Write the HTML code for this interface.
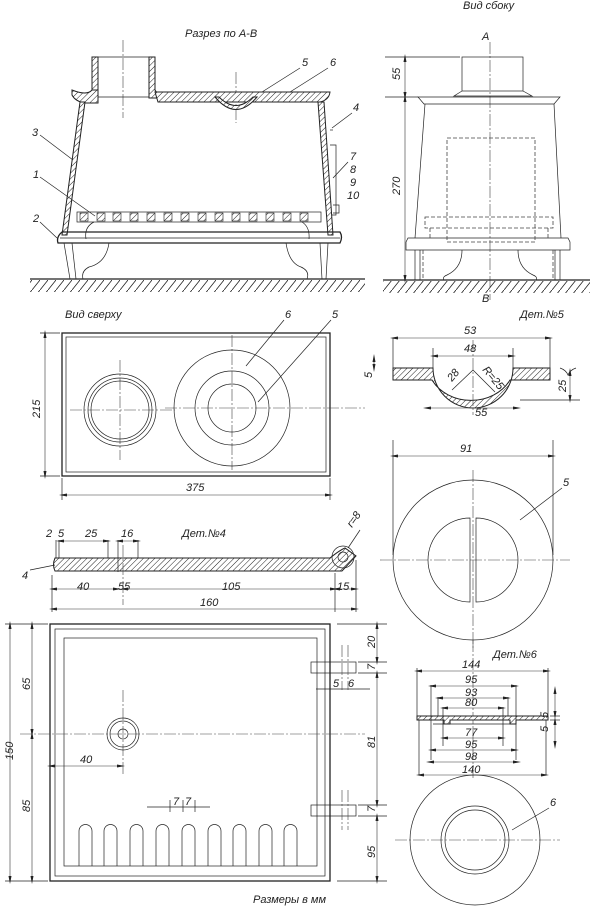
<!DOCTYPE html>
<html><head><meta charset="utf-8"><style>
html,body{margin:0;padding:0;background:#fff;}
svg{display:block;}
text{font-family:"Liberation Sans",sans-serif;font-style:italic;font-size:11px;fill:#222;}
.t{stroke:#222;stroke-width:0.7;fill:none;}
.m{stroke:#222;stroke-width:1.3;fill:none;}
.c{stroke:#444;stroke-width:0.6;fill:none;stroke-dasharray:12 2 2 2;}
.d{stroke:#444;stroke-width:0.8;fill:none;stroke-dasharray:4 2;}
.h{stroke:#222;stroke-width:1;fill:url(#hatch);}
.dim{stroke:#333;stroke-width:0.6;fill:none;marker-start:url(#a);marker-end:url(#a);}
</style></head><body>
<svg width="600" height="909" viewBox="0 0 600 909" xmlns="http://www.w3.org/2000/svg">
<defs>
<pattern id="hatch" width="4" height="4" patternUnits="userSpaceOnUse" patternTransform="rotate(45)"><rect width="4" height="4" fill="#fff"/><line x1="0" y1="0" x2="0" y2="4" stroke="#222" stroke-width="1"/></pattern>
<pattern id="ground" width="8" height="10" patternUnits="userSpaceOnUse"><line x1="8" y1="0" x2="0" y2="10" stroke="#222" stroke-width="0.8"/></pattern>
<marker id="a" markerWidth="8" markerHeight="6" refX="4" refY="3" orient="auto-start-reverse" markerUnits="userSpaceOnUse"><path d="M0,1.5 L8,3 L0,4.5 Z" fill="#222"/></marker>
</defs>

<!-- ===== Section A-B ===== -->
<text x="185" y="37">Разрез по А-В</text>
<line class="c" x1="123" y1="40" x2="123" y2="118"/>
<line class="c" x1="236" y1="72" x2="236" y2="123"/>
<!-- chimney -->
<path class="h" d="M92,57 h6 v40 h-6 z"/>
<path class="h" d="M149,57 h6 v33 q3,6 12,8 h-18 z"/>
<path class="h" d="M92,90 q-5,6 -20,0 v5 q3,6 12,8 h14 v-13 z"/>
<line class="t" x1="92" y1="57" x2="155" y2="57"/>
<line class="t" x1="98" y1="97" x2="149" y2="97"/>
<!-- top plate -->
<path class="h" d="M155,92 h175 q-1,8 -10,10 h-162 z"/>
<path class="h" d="M215,97 q21,25 42,0 h-4 q-17,17 -34,0 z"/>
<!-- walls -->
<path class="h" d="M80,102 h5 l-18,133 h-5 z"/>
<path class="h" d="M318,102 h6 l9,133 h-5 z"/>
<line class="t" x1="330" y1="130" x2="333" y2="130"/>
<path class="t" d="M330,145 h6 v70 h-4 M333,205 h6 v8 h-6"/>
<!-- grate -->
<rect class="t" x="77" y="212" width="244" height="10"/>
<g fill="url(#hatch)" stroke="#222" stroke-width="0.6">
<rect x="80" y="213" width="8" height="8"/><rect x="97" y="213" width="8" height="8"/><rect x="113" y="213" width="8" height="8"/><rect x="130" y="213" width="8" height="8"/><rect x="147" y="213" width="8" height="8"/><rect x="164" y="213" width="8" height="8"/><rect x="181" y="213" width="8" height="8"/><rect x="198" y="213" width="8" height="8"/><rect x="215" y="213" width="8" height="8"/><rect x="232" y="213" width="8" height="8"/><rect x="249" y="213" width="8" height="8"/><rect x="266" y="213" width="8" height="8"/><rect x="283" y="213" width="8" height="8"/><rect x="300" y="213" width="8" height="8"/>
</g>
<path class="t" d="M94,222 q-10,5 -8,17 M302,222 q8,5 7,17"/>
<!-- base -->
<path class="m" d="M62,232 h278 q3,5 0,11 h-282 q-2,-6 4,-11 z"/>
<line class="t" x1="60" y1="238" x2="340" y2="238"/>
<!-- legs -->
<path class="t" d="M64,243 l6,36 M72,243 l4,36 M109,243 q-3,20 -20,24 q-8,4 -6,12 M286,243 q3,20 15,24 q9,4 6,12 M320,243 l2,36 M328,243 l-2,36"/>
<line class="m" x1="30" y1="279" x2="365" y2="279"/>
<rect x="30" y="280" width="335" height="12" fill="url(#ground)"/>
<!-- leaders -->
<text x="302" y="66">5</text><text x="330" y="66">6</text>
<line class="t" x1="300" y1="68" x2="262" y2="92"/><line class="t" x1="328" y1="68" x2="290" y2="92"/>
<text x="353" y="111">4</text><line class="t" x1="352" y1="113" x2="332" y2="128"/>
<text x="32" y="136">3</text><line class="t" x1="40" y1="135" x2="73" y2="160"/>
<text x="33" y="178">1</text><line class="t" x1="40" y1="177" x2="95" y2="216"/>
<text x="33" y="222">2</text><line class="t" x1="40" y1="222" x2="57" y2="238"/>
<text x="350" y="160">7</text><text x="350" y="173">8</text><text x="350" y="186">9</text><text x="347" y="199">10</text>
<line class="t" x1="348" y1="162" x2="333" y2="178"/>

<!-- ===== Side view ===== -->
<text x="463" y="9">Вид сбоку</text>
<text x="482" y="40">A</text><text x="482" y="302">B</text>
<line class="c" x1="490" y1="42" x2="490" y2="300"/>
<rect class="t" x="462" y="57" width="61" height="34"/>
<path class="t" d="M462,91 l-8,5 h78 l-9,-5"/>
<path class="t" d="M418,97 h142 l-6,7 h-130 z"/>
<path class="t" d="M425,104 l-10,134 M554,104 l7,134"/>
<path class="t" d="M408,238 h160 l2,4 v8 h-164 v-8 z"/>
<path class="t" d="M415,250 v30 M420,250 v30 M555,250 v30 M560,250 v30 M462,250 q0,18 -15,25 q-5,2 -3,5 M518,250 q0,18 15,25 q5,2 3,5"/>
<rect class="d" x="447" y="138" width="88" height="104"/>
<path class="d" d="M425,217 h128 v11 h-128 z M430,228 v10 M548,228 v10 M423,250 v30 M553,250 v30"/>
<line class="m" x1="383" y1="280" x2="590" y2="280"/>
<rect x="383" y="281" width="207" height="12" fill="url(#ground)"/>
<line class="t" x1="385" y1="57" x2="460" y2="57"/><line class="t" x1="385" y1="97" x2="418" y2="97"/>
<line class="dim" x1="405" y1="58" x2="405" y2="96"/>
<line class="dim" x1="405" y1="98" x2="405" y2="279"/>
<text transform="translate(400,80) rotate(-90)">55</text>
<text transform="translate(400,195) rotate(-90)">270</text>

<!-- ===== Top view ===== -->
<text x="65" y="318">Вид сверху</text>
<rect class="m" x="62" y="333" width="268" height="143"/>
<rect class="t" x="66" y="337" width="260" height="135"/>
<line class="c" x1="70" y1="410" x2="175" y2="410"/>
<line class="c" x1="120" y1="360" x2="120" y2="460"/>
<circle class="t" cx="120" cy="410" r="36"/><circle class="t" cx="120" cy="410" r="32"/><circle class="t" cx="120" cy="410" r="29"/>
<line class="c" x1="165" y1="408" x2="365" y2="408"/>
<line class="c" x1="232" y1="335" x2="232" y2="470"/>
<circle class="t" cx="232" cy="408" r="58"/><circle class="t" cx="232" cy="408" r="37"/><circle class="t" cx="232" cy="408" r="24"/>
<text x="285" y="318">6</text><text x="332" y="318">5</text>
<line class="t" x1="284" y1="320" x2="246" y2="366"/><line class="t" x1="331" y1="320" x2="258" y2="402"/>
<line class="t" x1="40" y1="333" x2="60" y2="333"/><line class="t" x1="40" y1="476" x2="60" y2="476"/>
<line class="dim" x1="45" y1="334" x2="45" y2="475"/>
<text transform="translate(40,418) rotate(-90)">215</text>
<line class="t" x1="62" y1="478" x2="62" y2="500"/><line class="t" x1="330" y1="478" x2="330" y2="500"/>
<line class="dim" x1="63" y1="495" x2="329" y2="495"/>
<text x="186" y="491">375</text>

<!-- ===== Det 5 ===== -->
<text x="520" y="318">Дет.№5</text>
<path class="h" d="M393,368 h40 a40,40 0 0 0 80,0 h37 v12 h-40 a44,38 0 0 1 -78,0 h-39 z"/>
<line class="c" x1="473" y1="340" x2="473" y2="415"/>
<line class="t" x1="393" y1="338" x2="393" y2="368"/><line class="t" x1="550" y1="338" x2="550" y2="368"/>
<line class="dim" x1="394" y1="338" x2="549" y2="338"/><text x="464" y="334">53</text>
<line class="t" x1="433" y1="348" x2="433" y2="368"/><line class="t" x1="513" y1="348" x2="513" y2="368"/>
<line class="dim" x1="434" y1="356" x2="512" y2="356"/><text x="464" y="352">48</text>
<line class="dim" x1="427" y1="408" x2="517" y2="408"/><text x="475" y="416">55</text>
<line class="t" x1="473" y1="370" x2="452" y2="390"/><line class="t" x1="473" y1="370" x2="495" y2="392"/>
<text transform="translate(452,382) rotate(-50)" font-size="10">28</text>
<text transform="translate(482,370) rotate(50)" font-size="10">R=25</text>
<line class="dim" x1="374" y1="358" x2="374" y2="368"/><text transform="translate(372,378) rotate(-90)">5</text>
<line class="t" x1="520" y1="400" x2="580" y2="400"/>
<line class="dim" x1="570" y1="372" x2="570" y2="399"/><text transform="translate(566,392) rotate(-90)">25</text>
<path class="t" d="M560,368 q6,2 8,7 q2,-5 8,-7"/>

<!-- circle of det 5 -->
<line class="c" x1="380" y1="560" x2="570" y2="560"/>
<line class="c" x1="473" y1="470" x2="473" y2="650"/>
<circle class="t" cx="473" cy="560" r="80"/>
<path class="t" d="M470,518 a42,42 0 0 0 0,84 z M476,518 a42,42 0 0 1 0,84 z"/>
<line class="t" x1="393" y1="440" x2="393" y2="555"/><line class="t" x1="553" y1="440" x2="553" y2="555"/>
<line class="dim" x1="394" y1="456" x2="552" y2="456"/><text x="460" y="452">91</text>
<text x="563" y="486">5</text><line class="t" x1="562" y1="488" x2="520" y2="520"/>

<!-- ===== Det 4 ===== -->
<text x="182" y="537">Дет.№4</text>
<path class="h" d="M55,558 h275 q10,-8 15,-10 l11,8 l-14,15 h-287 q-3,-6 0,-13 z"/>
<circle class="t" cx="343" cy="557" r="11"/><circle class="t" cx="343" cy="557" r="5"/>
<line class="c" x1="123" y1="545" x2="123" y2="605"/>
<line class="t" x1="52" y1="575" x2="52" y2="612"/><line class="t" x1="335" y1="573" x2="335" y2="612"/><line class="t" x1="356" y1="560" x2="356" y2="612"/>
<line class="t" x1="56" y1="540" x2="56" y2="558"/><line class="t" x1="59" y1="540" x2="59" y2="558"/>
<line class="t" x1="108" y1="540" x2="108" y2="558"/><line class="t" x1="118" y1="540" x2="118" y2="572"/><line class="t" x1="138" y1="540" x2="138" y2="558"/>
<line class="dim" x1="60" y1="541" x2="107" y2="541"/><line class="dim" x1="119" y1="541" x2="137" y2="541"/>
<text x="46" y="537">2</text><text x="58" y="537">5</text><text x="85" y="537">25</text><text x="121" y="537">16</text>
<line class="t" x1="30" y1="570" x2="55" y2="565"/><text x="22" y="579">4</text>
<line class="dim" x1="53" y1="589" x2="117" y2="589"/><line class="dim" x1="124" y1="589" x2="334" y2="589"/><line class="dim" x1="336" y1="589" x2="355" y2="589"/>
<text x="77" y="590">40</text><text x="118" y="590">55</text><text x="222" y="590">105</text><text x="337" y="590">15</text>
<line class="dim" x1="53" y1="609" x2="355" y2="609"/><text x="200" y="606">160</text>
<line class="t" x1="348" y1="548" x2="360" y2="530"/><text transform="translate(352,528) rotate(-55)">r=8</text>

<!-- ===== Door ===== -->
<rect class="m" x="50" y="624" width="280" height="257"/>
<rect class="t" x="55" y="629" width="270" height="247"/>
<rect class="t" x="64" y="638" width="253" height="228"/>
<line class="c" x1="20" y1="734" x2="365" y2="734"/>
<line class="c" x1="123" y1="690" x2="123" y2="775"/>
<circle class="t" cx="123" cy="734" r="16"/><circle class="t" cx="123" cy="734" r="13"/><circle class="t" cx="123" cy="734" r="5"/>
<line class="dim" x1="51" y1="766" x2="121" y2="766"/><text x="80" y="763">40</text>
<g class="t">
<path d="M79,866 v-35 a6.5,6.5 0 0 1 13,0 v35"/><path d="M104,866 v-35 a6.5,6.5 0 0 1 13,0 v35"/><path d="M130,866 v-35 a6.5,6.5 0 0 1 13,0 v35"/><path d="M156,866 v-35 a6.5,6.5 0 0 1 13,0 v35"/><path d="M182,866 v-35 a6.5,6.5 0 0 1 13,0 v35"/><path d="M208,866 v-35 a6.5,6.5 0 0 1 13,0 v35"/><path d="M233,866 v-35 a6.5,6.5 0 0 1 13,0 v35"/><path d="M259,866 v-35 a6.5,6.5 0 0 1 13,0 v35"/><path d="M284,866 v-35 a6.5,6.5 0 0 1 13,0 v35"/>
</g>
<line class="t" x1="147" y1="807" x2="210" y2="807"/>
<line class="t" x1="170" y1="800" x2="170" y2="812"/><line class="t" x1="183" y1="800" x2="183" y2="812"/><line class="t" x1="195" y1="800" x2="195" y2="812"/>
<text x="173" y="805">7</text><text x="185" y="805">7</text>
<!-- hinges -->
<rect class="t" x="311" y="662" width="45" height="11"/><rect class="t" x="311" y="805" width="45" height="11"/>
<line class="c" x1="342" y1="645" x2="342" y2="690"/><line class="c" x1="348" y1="645" x2="348" y2="690"/>
<line class="c" x1="342" y1="790" x2="342" y2="830"/><line class="c" x1="348" y1="790" x2="348" y2="830"/>
<line class="t" x1="316" y1="689" x2="370" y2="689"/>
<text x="333" y="687">5</text><text x="348" y="687">6</text>
<!-- door dims -->
<line class="t" x1="5" y1="624" x2="48" y2="624"/><line class="t" x1="5" y1="881" x2="48" y2="881"/>
<line class="dim" x1="10" y1="625" x2="10" y2="880"/><text transform="translate(13,760) rotate(-90)">150</text>
<line class="dim" x1="32" y1="625" x2="32" y2="733"/><line class="dim" x1="32" y1="735" x2="32" y2="880"/>
<text transform="translate(30,690) rotate(-90)">65</text><text transform="translate(30,812) rotate(-90)">85</text>
<line class="t" x1="337" y1="624" x2="387" y2="624"/><line class="t" x1="358" y1="662" x2="387" y2="662"/><line class="t" x1="358" y1="673" x2="387" y2="673"/>
<line class="t" x1="358" y1="805" x2="387" y2="805"/><line class="t" x1="358" y1="816" x2="387" y2="816"/><line class="t" x1="337" y1="881" x2="387" y2="881"/>
<line class="dim" x1="377" y1="625" x2="377" y2="661"/><line class="dim" x1="377" y1="674" x2="377" y2="804"/><line class="dim" x1="377" y1="817" x2="377" y2="880"/>
<text transform="translate(375,648) rotate(-90)">20</text><text transform="translate(375,670) rotate(-90)">7</text>
<text transform="translate(375,748) rotate(-90)">81</text><text transform="translate(375,812) rotate(-90)">7</text>
<text transform="translate(375,858) rotate(-90)">95</text>
<text x="253" y="903">Размеры в мм</text>

<!-- ===== Det 6 ===== -->
<text x="493" y="658">Дет.№6</text>
<line class="c" x1="473" y1="640" x2="473" y2="780"/>
<path class="h" d="M417,716 h131 v4 h-32 v4 h-6 v-4 h-60 v4 h-6 v-4 h-27 z"/>
<line class="t" x1="433" y1="724" x2="516" y2="724"/>
<g class="t">
<line x1="417" y1="668" x2="417" y2="716"/><line x1="548" y1="668" x2="548" y2="716"/>
<line x1="431" y1="685" x2="431" y2="760"/><line x1="516" y1="685" x2="516" y2="760"/>
<line x1="438" y1="697" x2="438" y2="716"/><line x1="508" y1="697" x2="508" y2="716"/>
<line x1="443" y1="707" x2="443" y2="746"/><line x1="503" y1="707" x2="503" y2="746"/>
<line x1="419" y1="720" x2="419" y2="775"/><line x1="546" y1="720" x2="546" y2="775"/>
</g>
<line class="dim" x1="418" y1="671" x2="547" y2="671"/><text x="462" y="668">144</text>
<line class="dim" x1="432" y1="686" x2="515" y2="686"/><text x="465" y="683">95</text>
<line class="dim" x1="439" y1="698" x2="507" y2="698"/><text x="465" y="696">93</text>
<line class="dim" x1="444" y1="708" x2="502" y2="708"/><text x="465" y="706">80</text>
<line class="dim" x1="444" y1="738" x2="502" y2="738"/><text x="465" y="736">77</text>
<line class="dim" x1="432" y1="750" x2="515" y2="750"/><text x="465" y="748">95</text>
<line class="dim" x1="430" y1="762" x2="517" y2="762"/><text x="465" y="760">98</text>
<line class="dim" x1="420" y1="775" x2="545" y2="775"/><text x="462" y="773">140</text>
<line class="t" x1="550" y1="716" x2="560" y2="716"/><line class="t" x1="550" y1="720" x2="560" y2="720"/>
<line class="dim" x1="555" y1="690" x2="555" y2="715"/><line class="dim" x1="555" y1="745" x2="555" y2="721"/>
<text transform="translate(548,718) rotate(-90)" font-size="10">5</text><text transform="translate(548,732) rotate(-90)" font-size="10">5</text>
<line class="c" x1="395" y1="840" x2="560" y2="840"/>
<circle class="t" cx="475" cy="840" r="65"/><circle class="t" cx="475" cy="840" r="34"/><circle class="t" cx="475" cy="840" r="30"/>
<text x="550" y="806">6</text><line class="t" x1="549" y1="808" x2="512" y2="830"/>
</svg>
</body></html>
